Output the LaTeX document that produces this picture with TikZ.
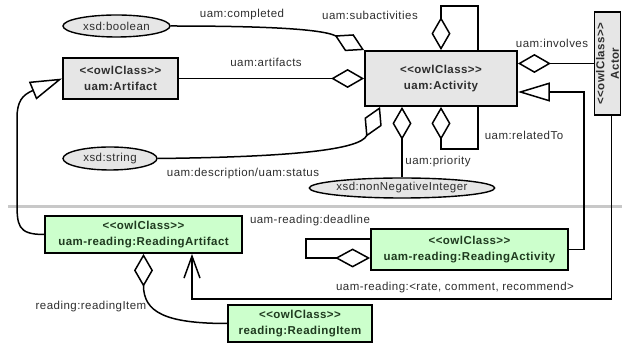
\documentclass[tikz,border=0pt]{standalone}
\usepackage{fontspec}
\setmainfont{Liberation Sans}[LetterSpace=4]
\usetikzlibrary{shapes.geometric,arrows.meta,calc}
\definecolor{boxgray}{HTML}{E6E6E6}
\definecolor{boxgreen}{HTML}{CCFFCC}
\definecolor{txt}{HTML}{2E2E2E}
\definecolor{gtxt}{HTML}{1F3A1F}
\definecolor{sepline}{HTML}{C8C8C8}
\begin{document}
\begin{tikzpicture}[x=1pt,y=-1pt,
  cls/.style={draw=black, line width=1.8pt, fill=boxgray, inner sep=0pt, align=center, text=txt, font=\fontsize{11.5}{16}\selectfont\bfseries},
  gcls/.style={cls, fill=boxgreen, text=gtxt},
  dtype/.style={ellipse, draw=black, line width=1.4pt, fill=boxgray, inner sep=0pt, text=txt, font=\fontsize{11.5}{13}\selectfont},
  lbl/.style={text=txt, font=\fontsize{11.5}{13}\selectfont, inner sep=0pt},
  conn/.style={line width=1.5pt, draw=black},
  agg/.style={-{Diamond[fill=white,length=33pt,width=19pt]}},
  gen/.style={-{Triangle[fill=white,length=32pt,width=19pt]}},
  nav/.style={-{Straight Barb[length=22pt,width=16pt]}},
]
\useasboundingbox (0,0) rectangle (622,344);
\draw[sepline, line width=3pt] (8,207) -- (622,207);

% classes
\node[cls, minimum width=115pt, minimum height=41pt] (art) at (120.5,78.5) {<{}<owlClass>{}>\\uam:Artifact};
\node[cls, minimum width=152pt, minimum height=55pt] (act) at (441,78.5) {<{}<owlClass>{}>\\uam:Activity};
\node[cls, rotate=90, minimum width=103pt, minimum height=26pt, font=\fontsize{11.5}{14.5}\selectfont\bfseries] (actor) at (607.5,63.5) {<{}<owlClass>{}>\\Actor};
\node[gcls, minimum width=197pt, minimum height=37pt] (rart) at (143.5,234.5) {<{}<owlClass>{}>\\uam-reading:ReadingArtifact};
\node[gcls, minimum width=197pt, minimum height=41pt] (ract) at (469.5,249.5) {<{}<owlClass>{}>\\uam-reading:ReadingActivity};
\node[gcls, minimum width=144pt, minimum height=37pt] (ritem) at (300,323.5) {<{}<owlClass>{}>\\reading:ReadingItem};

% datatypes
\node[dtype, minimum width=107pt, minimum height=22pt] (bool) at (116.5,26) {xsd:boolean};
\node[dtype, minimum width=94pt, minimum height=23pt] (str) at (110,158.5) {xsd:string};
\node[dtype, minimum width=184pt, minimum height=20pt] (nni) at (402,188) {xsd:nonNegativeInteger};

% connectors
\draw[conn, agg] (bool.east) .. controls (250,26) and (320,28) .. (act.north west);
\draw[conn, agg] (art.east) -- (act.west);
\draw[conn, agg] (str.east) .. controls (290,157) and (360,150) .. ([xshift=16pt]act.south west);
\draw[conn, agg] ([xshift=37pt]act.north) -- ++(0,-44) -| (act.north);
\draw[conn, agg] ([xshift=37pt]act.south) -- ++(0,42) -| (act.south);
\draw[conn, agg] (actor.north) -- (act.east |- actor.north);
\draw[conn, agg] (nni.north) -- (nni.north |- act.south);
\draw[conn, gen] (ract.east) -- ++(15,0) |- ($(act.east)+(0,13.5)$);
\draw[conn, gen] (rart.west) .. controls (17,234.5) and (17,225) .. (17,200) -- (17,118) .. controls (17,102) and (22,95) .. (art.west);
\draw[conn, nav] ([xshift=4pt]actor.west) |- ($(rart.south)+(48.5,45)$) -- ($(rart.south)+(48.5,0)$);
\draw[conn, -{Diamond[fill=white,length=35pt,width=19pt]}] ($(ract.west)+(0,-10.5)$) -- ++(-64,0) |- ($(ract.west)+(0,8.5)$);
\draw[conn, agg] (ritem.west) .. controls (165,323.5) and (143.5,312) .. (rart.south);

% labels
\node[lbl] (lcomp) at (242,15) {uam:completed};
\node[lbl] (lsub) at (370,15) {uam:subactivities};
\node[lbl] (lart) at (266,62) {uam:artifacts};
\node[lbl] (linv) at (552,43) {uam:involves};
\node[lbl] (lrel) at (524,135) {uam:relatedTo};
\node[lbl] (lpri) at (438,162) {uam:priority};
\node[lbl] (ldesc) at (243,174) {uam:description/uam:status};
\node[lbl] (ldead) at (310,221) {uam-reading:deadline};
\node[lbl] (lrate) at (455,288) {uam-reading:<rate, comment, recommend>};
\node[lbl] (litem) at (91,307) {reading:readingItem};
\end{tikzpicture}
\end{document}
